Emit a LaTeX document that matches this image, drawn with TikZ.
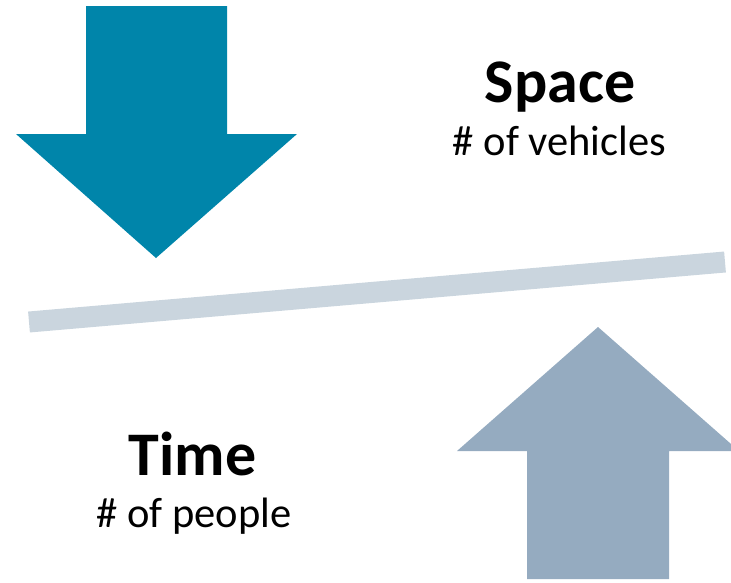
\documentclass[tikz,border=0pt]{standalone}
\usepackage{fontspec}
\setmainfont{Carlito}
\definecolor{teal}{RGB}{0,133,170}
\definecolor{slate}{RGB}{149,171,192}
\definecolor{barc}{RGB}{202,213,222}
\begin{document}
\begin{tikzpicture}[x=1pt,y=-1pt,
  title/.style={font=\fontsize{62}{70}\selectfont\bfseries,anchor=base,inner sep=0pt},
  sub/.style={font=\fontsize{42.5}{50}\selectfont,anchor=base,inner sep=0pt}]
\useasboundingbox (0,0) rectangle (731,582);
\clip (0,0) rectangle (731,582);
% down arrow
\fill[teal] (86,6) -- (227,6) -- (227,134) -- (297,134) -- (156,258) -- (16,134) -- (86,134) -- cycle;
% up arrow
\fill[slate] (527,579) -- (669,579) -- (669,451) -- (739,451) -- (598,327) -- (457,451) -- (527,451) -- cycle;
% bar
\draw[barc,line width=21pt] (29,322) -- (725,262);
% texts
\node[title] (space) at (560,102) {Space};
\node[sub] (veh) at (559.5,155) {\# of vehicles};
\node[title] (time) at (192.5,475) {Time};
\node[sub] (ppl) at (194,527) {\# of people};
\end{tikzpicture}
\end{document}
